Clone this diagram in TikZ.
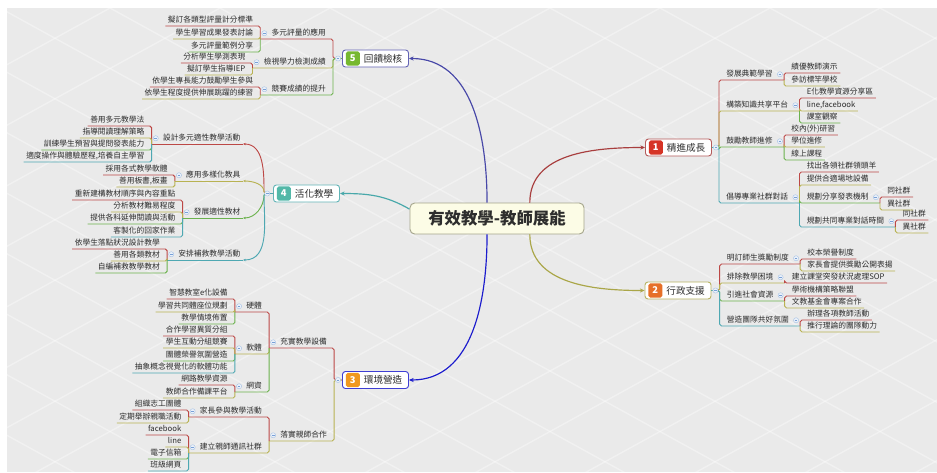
\documentclass[tikz,border=0pt]{standalone}
\usepackage{fontspec}
\setmainfont{Noto Sans CJK TC}
\usetikzlibrary{arrows.meta,positioning}

\definecolor{bg}{RGB}{234,234,234}
\definecolor{txt}{RGB}{45,45,45}
\definecolor{cR}{RGB}{188,72,70}
\definecolor{cO}{RGB}{184,178,82}
\definecolor{cG}{RGB}{108,178,78}
\definecolor{cT}{RGB}{78,168,178}
\definecolor{l1}{RGB}{168,62,62}
\definecolor{l2}{RGB}{170,166,72}
\definecolor{l3}{RGB}{28,28,205}
\definecolor{l4}{RGB}{72,168,170}
\definecolor{l5}{RGB}{72,72,168}
\definecolor{k1}{RGB}{214,52,38}
\definecolor{k2}{RGB}{230,112,40}
\definecolor{k3}{RGB}{240,152,30}
\definecolor{k4}{RGB}{82,184,168}
\definecolor{k5}{RGB}{118,184,48}
\definecolor{foldc}{RGB}{120,160,215}

% collapse marker
\newcommand{\fold}[1]{%
  \filldraw[fill=foldc!15,draw=foldc!70,line width=0.3pt] #1 circle (2.2pt);
  \draw[foldc,line width=0.45pt] #1 ++(-1.2pt,0) -- ++(2.4pt,0);}

\begin{document}
\begin{tikzpicture}[
        x=0.03cm, y=-0.03cm,
        >={Stealth[length=4pt,width=3.5pt]},
        every node/.style={text=txt},
        tx/.style={inner xsep=2pt,inner ysep=1.5pt,text height=5.4pt,text depth=1pt,
            font=\fontsize{6.6}{7}\selectfont},
        leafL/.style={tx,anchor=south east,xshift=-4pt},
        leafR/.style={tx,anchor=south west,xshift=4pt},
        subL/.style={leafL,execute at begin node={\hspace*{7.5pt}}},
        subR/.style={leafR,execute at end node={\hspace*{7.5pt}}},
        mainbox/.style={draw,fill=white,rounded corners=2.5pt,line width=0.8pt,
            minimum width=1.98cm,minimum height=0.51cm,inner sep=1pt,
            font=\fontsize{8.2}{9}\selectfont,execute at begin node={\hspace*{13pt}}},
        badge/.style={fill,rounded corners=1.5pt,text=white,minimum size=12pt,
            inner sep=0pt,font=\bfseries\fontsize{8}{8}\selectfont},
        ctrbox/.style={draw={rgb,255:red,165;green,165;blue,140},fill={rgb,255:red,252;green,252;blue,230},
            rounded corners=4pt,line width=0.8pt,minimum width=5.22cm,minimum height=0.93cm,
            font=\bfseries\fontsize{14}{16}\selectfont},
        br/.style={line width=0.8pt,rounded corners=1.5pt},
        mainln/.style={line width=1pt,->}
    ]
    \useasboundingbox (0,0) rectangle (937,472);
    \fill[white] (0,0) rectangle (937,472);
    \fill[bg] (7,8) rectangle (937,472);
    \begin{scope}
        \clip (7,8) rectangle (937,472);
        \foreach \k in {-8,...,16} {
            \draw[white,opacity=0.35,line width=1.2pt] (\k*110,8) -- ++(860,473);
            \draw[white,opacity=0.35,line width=1.2pt] (\k*110,8) -- ++(-860,473);
        }
    \end{scope}

    % centre and main topics
    \node[ctrbox] (ctr) at (497,218.5) {有效教學-教師展能};
    \node[mainbox,draw=l1!85] (m1) at (678.5,147.5) {精進成長};
    \node[mainbox,draw=l2!85] (m2) at (678,290.5) {行政支援};
    \node[mainbox,draw=l3!85] (m3) at (375.5,380) {環境營造};
    \node[mainbox,draw=l4!85] (m4) at (306.5,193.5) {活化教學};
    \node[mainbox,draw=l5!85] (m5) at (375.5,58.5) {回饋檢核};
    \node[badge,fill=k1,right=3pt of m1.west] (n1) {1};
    \node[badge,fill=k2,right=3pt of m2.west] (n2) {2};
    \node[badge,fill=k3,right=3pt of m3.west] (n3) {3};
    \node[badge,fill=k4,right=3pt of m4.west] (n4) {4};
    \node[badge,fill=k5,right=3pt of m5.west] (n5) {5};

    \coordinate (b1) at ([xshift=6pt]m1.east);
    \coordinate (b2) at ([xshift=7pt]m2.east);
    \coordinate (b3) at ([xshift=-6.8pt]m3.west);
    \coordinate (b4) at ([xshift=-7.7pt]m4.west);
    \coordinate (e4) at ([xshift=-14pt]b4);
    \coordinate (b5) at ([xshift=-7.7pt]m5.west);

    % 5
    \node[subL] (s51) at (b5 |- 0,39) {多元評量的應用};
    \node[subL] (s52) at (b5 |- 0,68) {檢視學力檢測成績};
    \node[subL] (s53) at (b5 |- 0,95) {競賽成績的提升};
    \node[leafL] (s51a) at (s51.south west |- 0,26) {擬訂各類型評量計分標準};
    \node[leafL] (s51b) at (s51.south west |- 0,39) {學生學習成果發表討論};
    \node[leafL] (s51c) at (s51.south west |- 0,52) {多元評量範例分享};
    \node[leafL] (s52a) at (s52.south west |- 0,63) {分析學生學測表現};
    \node[leafL] (s52b) at (s52.south west |- 0,75) {擬訂學生指導IEP};
    \node[leafL] (s53a) at (s53.south west |- 0,87) {依學生專長能力鼓勵學生參與};
    \node[leafL] (s53b) at (s53.south west |- 0,99) {依學生程度提供伸展跳躍的練習};

    % 4
    \node[subL] (s41) at (e4 |- 0,144) {設計多元適性教學活動};
    \node[subL] (s42) at (e4 |- 0,181) {應用多樣化教具};
    \node[subL] (s43) at (e4 |- 0,218) {發展適性教材};
    \node[subL] (s44) at (e4 |- 0,260) {安排補救教學活動};
    \node[leafL] (s41a) at (s41.south west |- 0,126) {善用多元教學法};
    \node[leafL] (s41b) at (s41.south west |- 0,138) {指導閱讀理解策略};
    \node[leafL] (s41c) at (s41.south west |- 0,150) {訓練學生預習與提問發表能力};
    \node[leafL] (s41d) at (s41.south west |- 0,162) {適度操作與體驗歷程,培養自主學習};
    \node[leafL] (s42a) at (s42.south west |- 0,175) {採用各式教學軟體};
    \node[leafL] (s42b) at (s42.south west |- 0,187) {善用板書,板畫};
    \node[leafL] (s43a) at (s43.south west |- 0,200) {重新建構教材順序與內容重點};
    \node[leafL] (s43b) at (s43.south west |- 0,212) {分析教材難易程度};
    \node[leafL] (s43c) at (s43.south west |- 0,224) {提供各科延伸閱讀與活動};
    \node[leafL] (s43d) at (s43.south west |- 0,237) {客製化的回家作業};
    \node[leafL] (s44a) at (s44.south west |- 0,249) {依學生落點狀況設計教學};
    \node[leafL] (s44b) at (s44.south west |- 0,261) {善用各類教材};
    \node[leafL] (s44c) at (s44.south west |- 0,273) {自編補救教學教材};

    % 3
    \node[subL] (s31) at (b3 |- 0,348) {充實教學設備};
    \node[subL] (s32) at (b3 |- 0,441) {落實親師合作};
    \node[subL] (s311) at (s31.south west |- 0,312) {硬體};
    \node[subL] (s312) at (s31.south west |- 0,354) {軟體};
    \node[subL] (s313) at (s31.south west |- 0,392) {網資};
    \node[leafL] (s311a) at (s311.south west |- 0,299) {智慧教室e化設備};
    \node[leafL] (s311b) at (s311.south west |- 0,312) {學習共同體座位規劃};
    \node[leafL] (s311c) at (s311.south west |- 0,324) {教學情境佈置};
    \node[leafL] (s312a) at (s312.south west |- 0,336) {合作學習異質分組};
    \node[leafL] (s312b) at (s312.south west |- 0,348) {學生互動分組競賽};
    \node[leafL] (s312c) at (s312.south west |- 0,361) {團體榮譽氛圍營造};
    \node[leafL] (s312d) at (s312.south west |- 0,373) {抽象概念視覺化的軟體功能};
    \node[leafL] (s313a) at (s313.south west |- 0,385) {網路教學資源};
    \node[leafL] (s313b) at (s313.south west |- 0,398) {教師合作備課平台};
    \node[subL] (s321) at (s32.south west |- 0,417) {家長參與教學活動};
    \node[subL] (s322) at (s32.south west |- 0,453) {建立親師通訊社群};
    \node[leafL] (s321a) at (s321.south west |- 0,410) {組織志工團體};
    \node[leafL] (s321b) at (s321.south west |- 0,423) {定期舉辦親職活動};
    \node[leafL] (s322a) at (s322.south west |- 0,435) {facebook};
    \node[leafL] (s322b) at (s322.south west |- 0,447) {line};
    \node[leafL] (s322c) at (s322.south west |- 0,459) {電子信箱};
    \node[leafL] (s322d) at (s322.south west |- 0,471) {班級網頁};

    % 1
    \node[subR] (s11) at (b1 |- 0,80) {發展典範學習};
    \node[subR] (s12) at (b1 |- 0,111) {構築知識共享平台};
    \node[subR] (s13) at (b1 |- 0,147) {鼓勵教師進修};
    \node[subR] (s14) at (b1 |- 0,203) {倡導專業社群對話};
    \node[leafR] (s11a) at (s11.south east |- 0,73) {績優教師演示};
    \node[leafR] (s11b) at (s11.south east |- 0,86) {參訪標竿學校};
    \node[leafR] (s12a) at (s12.south east |- 0,98) {E化教學資源分享區};
    \node[leafR] (s12b) at (s12.south east |- 0,111) {line,facebook};
    \node[leafR] (s12c) at (s12.south east |- 0,123) {課室觀察};
    \node[leafR] (s13a) at (s13.south east |- 0,135) {校內(外)研習};
    \node[leafR] (s13b) at (s13.south east |- 0,147) {學位進修};
    \node[leafR] (s13c) at (s13.south east |- 0,160) {線上課程};
    \node[leafR] (s14a) at (s14.south east |- 0,172) {找出各領社群領頭羊};
    \node[leafR] (s14b) at (s14.south east |- 0,185) {提供合適場地設備};
    \node[subR] (s14c) at (s14.south east |- 0,203) {規劃分享發表機制};
    \node[subR] (s14d) at (s14.south east |- 0,227) {規劃共同專業對話時間};
    \node[leafR] (s14c1) at (s14c.south east |- 0,197) {同社群};
    \node[leafR] (s14c2) at (s14c.south east |- 0,210) {異社群};
    \node[leafR] (s14d1) at (s14d.south east |- 0,220) {同社群};
    \node[leafR] (s14d2) at (s14d.south east |- 0,233) {異社群};

    % 2
    \node[subR] (s21) at (b2 |- 0,264) {明訂師生獎勵制度};
    \node[subR] (s22) at (b2 |- 0,283) {排除教學困境};
    \node[subR] (s23) at (b2 |- 0,301) {引進社會資源};
    \node[subR] (s24) at (b2 |- 0,326) {營造團隊共好氛圍};
    \node[leafR] (s21a) at (s21.south east |- 0,259) {校本榮譽制度};
    \node[leafR] (s21b) at (s21.south east |- 0,271) {家長會提供獎勵公開表揚};
    \node[leafR] (s22a) at (s22.south east |- 0,283) {建立課堂突發狀況處理SOP};
    \node[leafR] (s23a) at (s23.south east |- 0,296) {學術機構策略聯盟};
    \node[leafR] (s23b) at (s23.south east |- 0,308) {文教基金會專案合作};
    \node[leafR] (s24a) at (s24.south east |- 0,320) {辦理各項教師活動};
    \node[leafR] (s24b) at (s24.south east |- 0,332) {推行理論的團隊動力};

    % main connectors
    \draw[mainln,l1] ([xshift=28pt]ctr.north) to[out=90,in=180] (m1.west);
    \draw[mainln,l2] ([xshift=28pt]ctr.south) to[out=-90,in=180] (m2.west);
    \draw[mainln,l5] ([xshift=-8.5pt]ctr.north) to[out=90,in=0] (m5.east);
    \draw[mainln,l3] ([xshift=-8.5pt]ctr.south) to[out=-90,in=0] (m3.east);
    \draw[mainln,l4] ([yshift=8pt]ctr.west) to[out=150,in=0] (m4.east);

    % branches
    \foreach \c/\col in {s51/cR,s52/cO,s53/cG}
        \draw[br,draw=\col] (m5.west) -- (b5) |- (\c.south west);
    \foreach \c/\col in {s31/cR,s32/cO}
        \draw[br,draw=\col] (m3.west) -- (b3) |- (\c.south west);
    \foreach \c/\col in {s11/cR,s12/cO,s13/cG,s14/cT}
        \draw[br,draw=\col] (m1.east) -- (b1) |- (\c.south east);
    \foreach \c/\col in {s21/cR,s22/cO,s23/cG,s24/cT}
        \draw[br,draw=\col] (m2.east) -- (b2) |- (\c.south east);
    \foreach \c/\col/\o in {s41/cR/90,s42/cO/90,s43/cG/-90,s44/cT/-90} {
        \draw[br,draw=\col,-{Stealth[length=2.5pt,width=2pt]}] (m4.west) -- (b4) to[out=\o,in=0] (\c.south east);
        \draw[br,draw=\col] (\c.south east) -- (\c.south west);
    }
    \foreach \p/\c/\col in {s51/s51a/cR,s51/s51b/cO,s51/s51c/cG,s52/s52a/cR,s52/s52b/cO,
            s53/s53a/cR,s53/s53b/cO,
            s41/s41a/cR,s41/s41b/cO,s41/s41c/cG,s41/s41d/cT,s42/s42a/cR,s42/s42b/cO,
            s43/s43a/cR,s43/s43b/cO,s43/s43c/cG,s43/s43d/cT,s44/s44a/cR,s44/s44b/cO,s44/s44c/cG,
            s31/s311/cR,s31/s312/cO,s31/s313/cG,s32/s321/cR,s32/s322/cO,
            s311/s311a/cR,s311/s311b/cO,s311/s311c/cG,
            s312/s312a/cR,s312/s312b/cO,s312/s312c/cG,s312/s312d/cT,
            s313/s313a/cR,s313/s313b/cO,s321/s321a/cR,s321/s321b/cO,
            s322/s322a/cR,s322/s322b/cO,s322/s322c/cG,s322/s322d/cT}
        \draw[br,draw=\col] (\p.south west) |- (\c.south west);
    \foreach \p/\c/\col in {s11/s11a/cR,s11/s11b/cO,s12/s12a/cR,s12/s12b/cO,s12/s12c/cG,
            s13/s13a/cR,s13/s13b/cO,s13/s13c/cG,
            s14/s14a/cR,s14/s14b/cO,s14/s14c/cG,s14/s14d/cT,
            s14c/s14c1/cR,s14c/s14c2/cO,s14d/s14d1/cR,s14d/s14d2/cO,
            s21/s21a/cR,s21/s21b/cO,s22/s22a/cR,s23/s23a/cR,s23/s23b/cO,
            s24/s24a/cR,s24/s24b/cO}
        \draw[br,draw=\col] (\p.south east) |- (\c.south east);

    % collapse markers
    \foreach \n in {s51,s52,s53,s41,s42,s43,s44,s31,s32,s311,s312,s313,s321,s322}
        {\fold{([xshift=3.5pt]\n.west)}}
    \foreach \n in {s11,s12,s13,s14,s14c,s14d,s21,s22,s23,s24}
        {\fold{([xshift=-3.5pt]\n.east)}}
    \fold{([xshift=-3.4pt]m5.west)}
    \fold{([xshift=-3.4pt]m3.west)}
    \fold{([xshift=-5pt]m4.west)}
    \fold{([xshift=3.4pt]m1.east)}
    \fold{([xshift=3.4pt]m2.east)}
\end{tikzpicture}
\end{document}
